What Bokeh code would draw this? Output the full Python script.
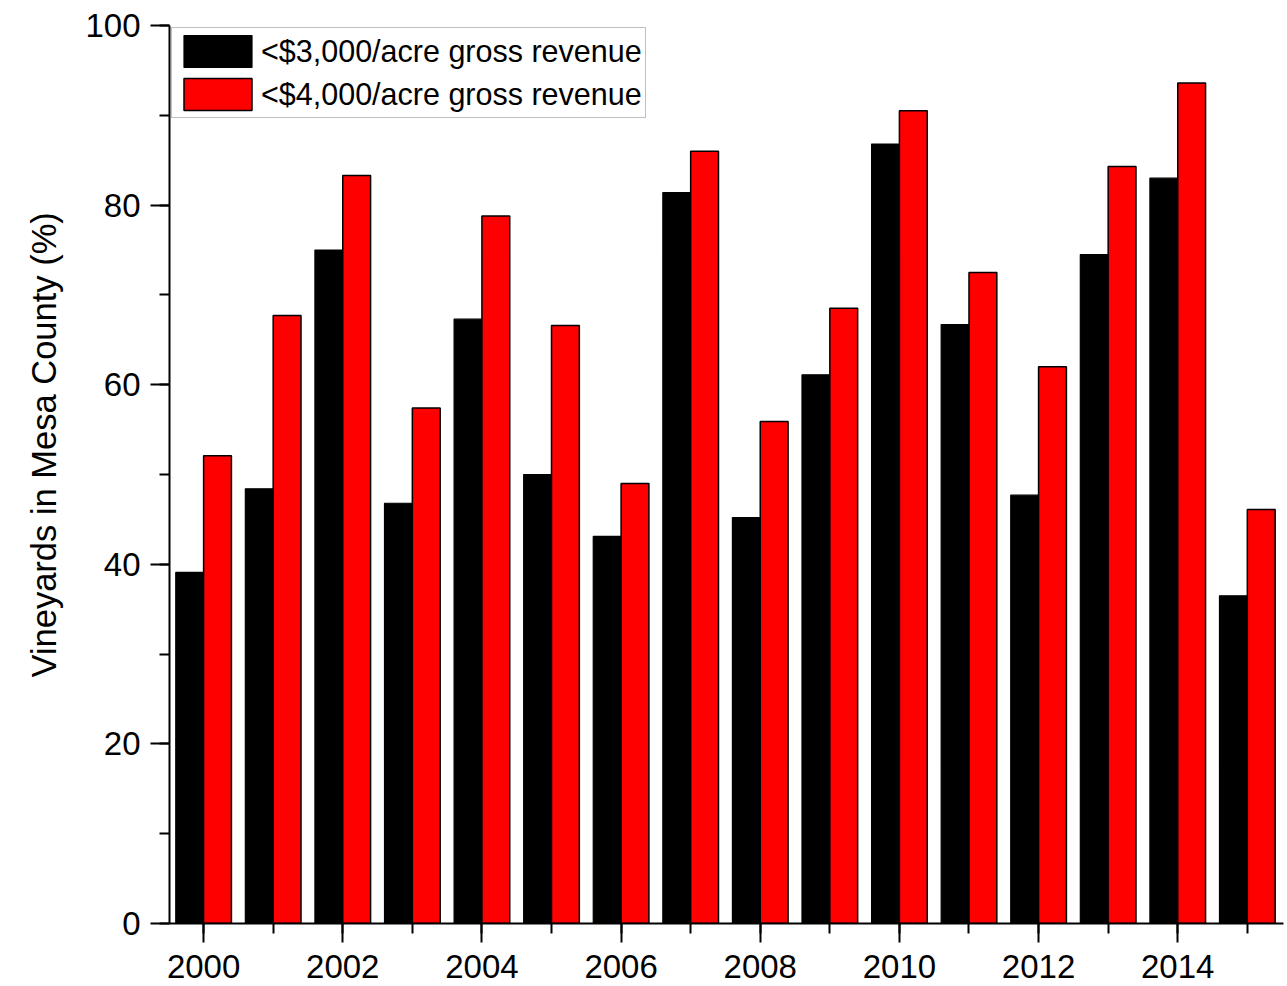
from bokeh.plotting import figure
from bokeh.models import ColumnDataSource, Range1d, SingleIntervalTicker, Legend, LegendItem, Title
from bokeh.transform import dodge
from bokeh.embed import file_html
from bokeh.resources import INLINE

years = list(range(2000, 2016))
below_3000 = [39.1, 48.4, 75.0, 46.8, 67.3, 50.0, 43.1, 81.4, 45.2, 61.1, 86.8, 66.7, 47.7, 74.5, 83.0, 36.5]
below_4000 = [52.1, 67.7, 83.3, 57.4, 78.8, 66.6, 49.0, 86.0, 55.9, 68.5, 90.5, 72.5, 62.0, 84.3, 93.6, 46.1]
series_labels = ["<$3,000/acre gross revenue", "<$4,000/acre gross revenue"]
y_title = "Vineyards in Mesa County (%)"

src = ColumnDataSource(dict(year=years, a=below_3000, b=below_4000))

FONT = "Liberation Sans"

p = figure(width=1287, height=986, output_backend="svg", toolbar_location=None,
           x_range=Range1d(1999.51, 2015.52), y_range=Range1d(0, 100),
           min_border_left=169, min_border_right=4, min_border_top=25, min_border_bottom=63)

r1 = p.vbar(x=dodge("year", -0.2), width=0.4, top="a", bottom=0, source=src,
            fill_color="black", line_color="black", line_width=1.2)
r2 = p.vbar(x=dodge("year", 0.2), width=0.4, top="b", bottom=0, source=src,
            fill_color="#FF0000", line_color="black", line_width=1.5)

p.xgrid.visible = False
p.ygrid.visible = False
p.outline_line_color = None
p.background_fill_color = "white"
p.border_fill_color = "white"

p.xaxis.ticker = SingleIntervalTicker(interval=2, num_minor_ticks=2)
p.yaxis.ticker = SingleIntervalTicker(interval=20, num_minor_ticks=2)

for ax in (p.xaxis[0], p.yaxis[0]):
    ax.axis_line_width = 2
    ax.axis_line_color = "black"
    ax.major_tick_line_width = 2
    ax.minor_tick_line_width = 2
    ax.major_tick_line_color = "black"
    ax.minor_tick_line_color = "black"
    ax.major_tick_in = 0
    ax.major_tick_out = 19
    ax.minor_tick_in = 0
    ax.minor_tick_out = 10
    ax.major_label_text_font = FONT
    ax.major_label_text_font_size = "33px"
    ax.major_label_text_color = "black"

p.xaxis.major_label_standoff = 12
p.yaxis.major_label_standoff = 10

# y-axis title: a side title in the left panel, offset upward as in the reference
ytitle = Title(text=y_title, align="left", offset=246, standoff=40,
               text_font=FONT, text_font_size="34.5px", text_font_style="normal",
               text_color="black")
p.add_layout(ytitle, "left")

legend = Legend(items=[LegendItem(label=series_labels[0], renderers=[r1]),
                       LegendItem(label=series_labels[1], renderers=[r2])],
                location="top_left", margin=2, padding=3, spacing=3,
                glyph_width=85, glyph_height=40, label_standoff=1, label_height=34,
                label_text_font=FONT, label_text_font_size="30.5px", label_text_color="black",
                border_line_color="#808080", border_line_width=1.5,
                background_fill_alpha=1.0)
p.add_layout(legend, "center")

open("out.html", "w").write(file_html(p, INLINE))
